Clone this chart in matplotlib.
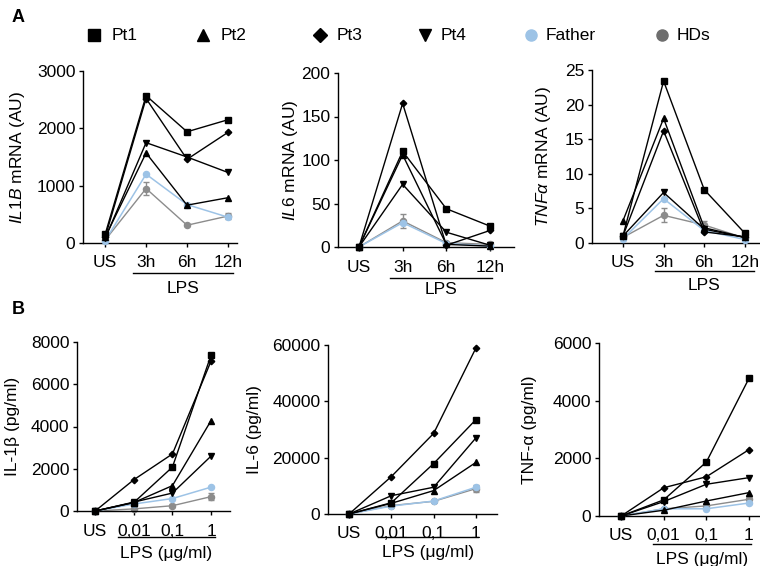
import matplotlib
matplotlib.use('Agg')
import matplotlib.pyplot as plt
from matplotlib.lines import Line2D

plt.rcParams['font.family'] = ['Liberation Sans', 'DejaVu Sans']
plt.rcParams['mathtext.fontset'] = 'custom'
plt.rcParams['mathtext.rm'] = 'Liberation Sans'
plt.rcParams['mathtext.it'] = 'Liberation Sans:italic'

# ---------------- data ----------------
groups = ['Pt1', 'Pt2', 'Pt3', 'Pt4', 'Father', 'HDs']
time_labels = ['US', '3h', '6h', '12h']
dose_labels = ['US', '0,01', '0,1', '1']

# rows follow `groups`
il1b_mrna = [[150, 2570, 1940, 2150],
             [100, 1570, 660, 790],
             [100, 2520, 1460, 1930],
             [80, 1750, 1500, 1230],
             [40, 1200, 670, 450],
             [50, 950, 310, 470]]
il1b_mrna_err = [30, 120, 20, 60]

il6_mrna = [[0, 110, 44, 24],
            [0, 106, 3, 1],
            [0, 165, 2, 19],
            [0, 72, 17, 2],
            [0, 28, 4, 1],
            [0, 30, 5, 3]]
il6_mrna_err = [0, 8, 1, 1]

tnfa_mrna = [[1.0, 23.4, 7.7, 1.4],
             [3.2, 18.0, 2.2, 0.8],
             [1.0, 16.2, 1.6, 0.9],
             [1.0, 7.3, 2.0, 0.8],
             [0.6, 6.4, 1.8, 0.5],
             [0.8, 4.0, 2.6, 0.7]]
tnfa_mrna_err = [0.2, 1.0, 0.6, 0.2]

il1b_prot = [[0, 400, 2080, 7380],
             [0, 400, 1200, 4280],
             [0, 1480, 2700, 7100],
             [0, 420, 850, 2600],
             [0, 330, 590, 1130],
             [0, 100, 250, 680]]
il1b_prot_err = [0, 40, 60, 170]

il6_prot = [[0, 4000, 17900, 33500],
            [0, 3800, 8300, 18300],
            [0, 13300, 28600, 58900],
            [0, 6500, 9500, 27000],
            [0, 2800, 4600, 9500],
            [0, 3000, 4500, 9000]]
il6_prot_err = [0, 300, 400, 1200]

tnfa_prot = [[0, 560, 1870, 4770],
             [0, 200, 520, 810],
             [0, 980, 1360, 2300],
             [0, 500, 1100, 1330],
             [0, 250, 250, 450],
             [0, 250, 350, 580]]
tnfa_prot_err = [0, 30, 40, 80]

# ---------------- styles ----------------
markers = ['s', '^', 'D', 'v', 'o', 'o']
msizes = [4.4, 4.4, 3.3, 4.4, 4.4, 4.4]
colors = ['black', 'black', 'black', 'black', '#9dc3e6', '#8c8c8c']
W, H = 760, 566

fig = plt.figure(figsize=(W / 100, H / 100), dpi=100)


def make_ax(left, top, right, bottom):
    return fig.add_axes([left / W, 1 - bottom / H, (right - left) / W, (bottom - top) / H])


def panel(geom, xlim, ylim, yticks, data, err, xlabels, ylabel, ylabel_x,
          lps_x, lps_y, lps_text, lps_text_y):
    left, top, right, bottom = geom
    ax = make_ax(left, top, right, bottom)
    x = list(range(len(xlabels)))
    order = [5, 4, 3, 2, 1, 0]
    for i in order:
        if i == 5:
            ax.errorbar(x, data[i], yerr=err, color=colors[i], lw=1.0,
                        marker=markers[i], ms=msizes[i], capsize=2.2,
                        elinewidth=1.0, clip_on=False, zorder=2)
        else:
            ax.plot(x, data[i], color=colors[i], lw=1.0 if i < 4 else 1.1,
                    marker=markers[i], ms=msizes[i], clip_on=False,
                    zorder=3 if i == 4 else 4)
    ax.set_xlim(*xlim)
    ax.set_ylim(*ylim)
    ax.set_yticks(yticks)
    ax.set_xticks(x)
    ax.set_xticklabels(xlabels)
    for s in ['top', 'right']:
        ax.spines[s].set_visible(False)
    for s in ['left', 'bottom']:
        ax.spines[s].set_linewidth(1.0)
    ax.spines['left'].set_bounds(ylim[0], ylim[1])
    ax.tick_params(axis='y', length=3, width=1, pad=2.5, labelsize=12.5)
    ax.tick_params(axis='x', length=3, width=1, pad=6, labelsize=12.5)
    ax.set_ylabel(ylabel, fontsize=12.5)
    ax.yaxis.set_label_coords((ylabel_x - left) / (right - left), 0.5)
    tr = ax.get_xaxis_transform()
    ax.plot(lps_x, [lps_y, lps_y], color='black', lw=1.0, transform=tr, clip_on=False)
    ax.text((lps_x[0] + lps_x[1]) / 2, lps_text_y, lps_text, transform=tr,
            ha='center', va='center', fontsize=12.5)
    return ax


panel((83, 71, 237, 243), (-0.54, 3.22), (0, 3000), [0, 1000, 2000, 3000],
      il1b_mrna, il1b_mrna_err, time_labels, r'$\mathit{IL1B}$ mRNA (AU)', 27,
      (0.68, 3.12), -0.174, 'LPS', -0.265)
panel((338, 73, 514, 247), (-0.48, 3.55), (0, 200), [0, 50, 100, 150, 200],
      il6_mrna, il6_mrna_err, time_labels, r'$\mathit{IL6}$ mRNA (AU)', 300,
      (0.70, 3.05), -0.178, 'LPS', -0.245)
panel((592, 70, 760, 243), (-0.76, 3.37), (0, 25), [0, 5, 10, 15, 20, 25],
      tnfa_mrna, tnfa_mrna_err, time_labels, r'$\mathit{TNF}\alpha$ mRNA (AU)', 553,
      (0.78, 3.22), -0.162, 'LPS', -0.245)
panel((77, 342, 230, 511), (-0.47, 3.49), (0, 8000), [0, 2000, 4000, 6000, 8000],
      il1b_prot, il1b_prot_err, dose_labels, 'IL-1β (pg/ml)', 20,
      (0.59, 3.10), -0.154, 'LPS (μg/ml)', -0.254)
panel((328, 345, 497, 514), (-0.5, 3.5), (0, 60000), [0, 20000, 40000, 60000],
      il6_prot, il6_prot_err, dose_labels, 'IL-6 (pg/ml)', 262,
      (0.69, 3.05), -0.136, 'LPS (μg/ml)', -0.23)
panel((599, 343, 760, 516), (-0.52, 3.26), (0, 6000), [0, 2000, 4000, 6000],
      tnfa_prot, tnfa_prot_err, dose_labels, 'TNF-α (pg/ml)', 537,
      (0.74, 3.05), -0.162, 'LPS (μg/ml)', -0.254)

# panel letters
fig.text(12 / W, 1 - 18 / H, 'A', fontsize=13, fontweight='bold', ha='left', va='center')
fig.text(12 / W, 1 - 309 / H, 'B', fontsize=13, fontweight='bold', ha='left', va='center')

# legend (manual row)
legend_colors = ['black', 'black', 'black', 'black', '#9dc3e6', '#6e6e6e']
legend_marker_x = [94, 203, 320, 425, 531, 662]
legend_text_x = [112, 221, 337, 441, 546, 677]
legend_y = 35
for m, c, mx, tx, g in zip(markers, legend_colors, legend_marker_x, legend_text_x, groups):
    fig.add_artist(Line2D([mx / W], [1 - legend_y / H], transform=fig.transFigure,
                          ls='none', marker=m, ms=8 if m != 'D' else 7, color=c))
    fig.text(tx / W, 1 - legend_y / H, g, fontsize=12.5, ha='left', va='center')

fig.savefig('out.png', dpi=100)
